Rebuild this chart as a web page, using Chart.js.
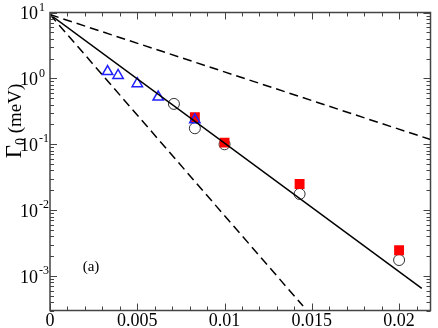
<!DOCTYPE html>
<html>
<head>
<meta charset="utf-8">
<script src="https://cdn.jsdelivr.net/npm/chart.js@4"></script>
<style>html,body{margin:0;padding:0;background:#fff}</style>
</head>
<body>
<canvas id="graph" width="438" height="328"></canvas>
<script>
// tick labels
const xTicks = [0, 0.005, 0.01, 0.015, 0.02];
const xTickLabels = ['0', '0.005', '0.01', '0.015', '0.02'];
const yDecades = [1, 0, -1, -2, -3];

// data
const triX = [0.0033, 0.0039, 0.005, 0.0062, 0.0083];
const triY = [1.27, 1.11, 0.83, 0.52, 0.235];
const circX = [0.0071, 0.0083, 0.01, 0.0143, 0.02];
const circY = [0.41, 0.175, 0.1, 0.0176, 0.00175];
const sqX = [0.0083, 0.01, 0.0143, 0.02];
const sqY = [0.257, 0.106, 0.025, 0.00246];
const fitX = [0, 0.0213];
const fitY = [9.3, 0.00065];
const upperX = [0, 0.0218];
const upperY = [9.3, 0.118];
const lowerX = [0, 0.0145];
const lowerY = [9.3, 0.00035];

function pts(xs, ys) {
    return xs.map((x, i) => ({x: x, y: ys[i]}));
}

const serif = '"Liberation Serif", serif';

const frame = {
    id: 'frame',
    afterDatasetsDraw(chart) {
        const ctx = chart.ctx;
        const a = chart.chartArea;
        const xs = chart.scales.x, ys = chart.scales.y;
        ctx.save();
        ctx.strokeStyle = '#444';
        ctx.lineWidth = 1.5;
        ctx.strokeRect(a.left, a.top, a.right - a.left, a.bottom - a.top);
        ctx.lineWidth = 1;
        ctx.beginPath();
        // x ticks, bottom and top, pointing inward
        for (let i = 0; i <= 21; i++) {
            const v = i * 0.001;
            const px = Math.round(xs.getPixelForValue(v)) + 0.5;
            const len = (i % 5 === 0) ? 7 : 4;
            ctx.moveTo(px, a.bottom); ctx.lineTo(px, a.bottom - len);
            ctx.moveTo(px, a.top); ctx.lineTo(px, a.top + len);
        }
        // y ticks, log decades and minors
        for (let d = -4; d <= 1; d++) {
            for (let m = 1; m <= 9; m++) {
                const v = m * Math.pow(10, d);
                if (v < ys.min * 0.999 || v > ys.max * 1.001) continue;
                const py = Math.round(ys.getPixelForValue(v)) + 0.5;
                const len = (m === 1) ? 7 : 4;
                ctx.moveTo(a.left, py); ctx.lineTo(a.left + len, py);
                ctx.moveTo(a.right, py); ctx.lineTo(a.right - len, py);
            }
        }
        ctx.stroke();

        ctx.fillStyle = '#000';
        // x tick labels
        ctx.font = '18px ' + serif;
        ctx.textAlign = 'center';
        ctx.textBaseline = 'middle';
        xTicks.forEach((v, i) => {
            ctx.fillText(xTickLabels[i], xs.getPixelForValue(v), a.bottom + 11);
        });
        // y tick labels 10^n
        yDecades.forEach(d => {
            const py = ys.getPixelForValue(Math.pow(10, d));
            ctx.font = '18px ' + serif;
            ctx.textAlign = 'right';
            ctx.fillText('10', 38, py + 2);
            ctx.font = '12px ' + serif;
            ctx.textAlign = 'left';
            ctx.fillText(d < 0 ? '-' + (-d) : String(d), 39, py - 5);
        });
        // panel tag
        ctx.font = '15px ' + serif;
        ctx.textAlign = 'center';
        ctx.fillText('(a)', 91, 267);
        // y title
        ctx.translate(14, 121);
        ctx.rotate(-Math.PI / 2);
        ctx.textAlign = 'left';
        ctx.textBaseline = 'alphabetic';
        const parts = [['Γ', '23px', 0], ['0', '14px', 4], [' (meV)', '19px', 0]];
        let w = 0;
        parts.forEach(p => { ctx.font = p[1] + ' ' + serif; w += ctx.measureText(p[0]).width; });
        let cx = -w / 2;
        parts.forEach(p => {
            ctx.font = p[1] + ' ' + serif;
            ctx.fillText(p[0], cx, 7 + p[2]);
            cx += ctx.measureText(p[0]).width;
        });
        ctx.restore();
    }
};

const ctx = document.getElementById('graph');
const myChart = new Chart(ctx, {
    type: 'scatter',
    data: {
        datasets: [
            {data: pts(fitX, fitY), showLine: true, borderColor: '#000', borderWidth: 1.5, pointRadius: 0, order: 0},
            {data: pts(upperX, upperY), showLine: true, borderColor: '#000', borderWidth: 1.5, borderDash: [9, 5], pointRadius: 0, order: 0},
            {data: pts(lowerX, lowerY), showLine: true, borderColor: '#000', borderWidth: 1.5, borderDash: [9, 5], pointRadius: 0, order: 0},
            {data: pts(triX, triY), pointStyle: 'triangle', pointRadius: 6, borderColor: '#2020ff', backgroundColor: 'rgba(0,0,0,0)', borderWidth: 1.5, order: 1},
            {data: pts(sqX, sqY), pointStyle: 'rect', pointRadius: 7, borderColor: '#ff0000', backgroundColor: '#ff0000', borderWidth: 0, order: 2},
            {data: pts(circX, circY), pointStyle: 'circle', pointRadius: 5.5, borderColor: '#333', backgroundColor: 'rgba(0,0,0,0)', borderWidth: 1, order: 3}
        ]
    },
    options: {
        responsive: false,
        animation: false,
        devicePixelRatio: 1,
        layout: {padding: {left: 50, right: 4, top: 12.5, bottom: 17.5}},
        plugins: {legend: {display: false}, tooltip: {enabled: false}},
        scales: {
            x: {type: 'linear', min: 0, max: 0.0218, display: false},
            y: {type: 'logarithmic', min: 0.0003, max: 10, display: false}
        }
    },
    plugins: [frame]
});
</script>
</body>
</html>
